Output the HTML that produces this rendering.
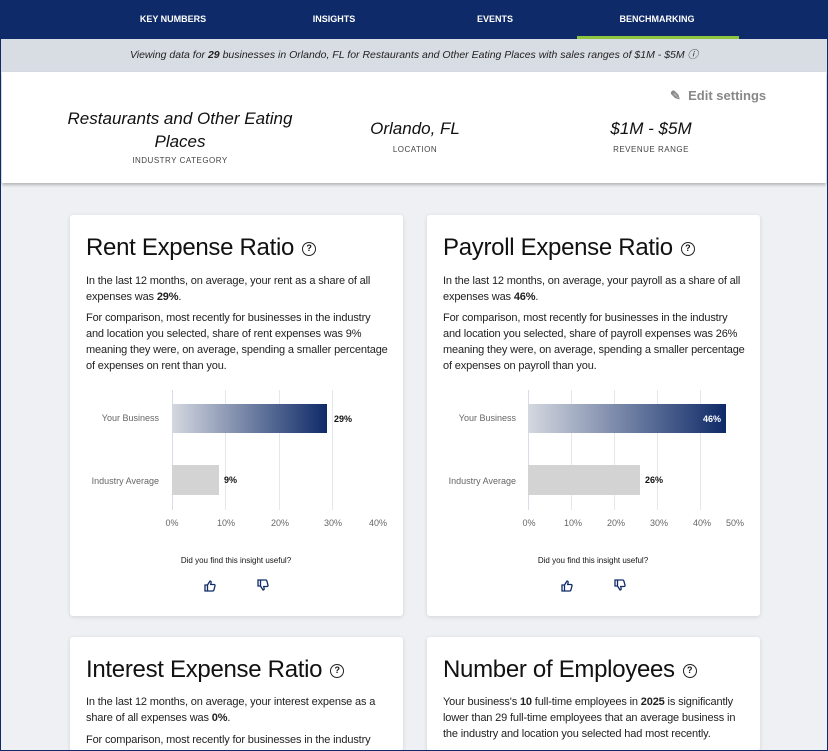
<!DOCTYPE html>
<html><head><meta charset="utf-8"><style>
*{margin:0;padding:0;box-sizing:border-box}
html,body{width:828px;height:751px;overflow:hidden}
body{background:#eef0f3;font-family:"Liberation Sans",sans-serif;position:relative;color:#111}
.a{position:absolute}
.nav{left:0;top:0;width:828px;height:39px;background:#0e2a68}
.nav span{position:absolute;top:14px;color:#fff;font-size:9px;font-weight:bold;transform:translateX(-50%)}
.ban{left:0;top:39px;width:828px;height:33px;background:#d8dde4;font-size:10.5px;font-style:italic;text-align:center;line-height:33px;color:#222}
.hdr{left:2px;top:72px;width:824px;height:111px;background:#fff;box-shadow:0 2px 3px rgba(0,0,0,.25)}
.c{text-align:center;transform:translateX(-50%)}
.big{font-size:17px;font-style:italic;color:#111}
.lab{font-size:8px;letter-spacing:.5px;color:#444}
.card{background:#fff;border-radius:3px;box-shadow:0 1px 4px rgba(0,0,0,.12)}
.t{font-size:24px;color:#111;letter-spacing:-.3px}
.p{font-size:11px;line-height:16px;color:#222;letter-spacing:-.15px;white-space:nowrap}
.q{display:inline-block;width:14px;height:14px;border:1.5px solid #222;border-radius:50%;font-size:9px;text-align:center;line-height:11px;vertical-align:middle;margin-left:8px;font-weight:bold;letter-spacing:0}
.g{background:#e4e7ec;width:1px}
.tk{font-size:9px;color:#666;transform:translateX(-50%)}
.bl{font-size:9px;color:#666;text-align:right;width:90px}
.v{font-size:9px;font-weight:bold}
</style></head><body>
<div class="a" style="left:0;top:0;width:828px;height:751px;border:1px solid #0e2a68;z-index:9;pointer-events:none"></div>
<div class="a nav"><span style="left:173px">KEY NUMBERS</span><span style="left:334px">INSIGHTS</span><span style="left:495px">EVENTS</span><span style="left:657px">BENCHMARKING</span></div>
<div class="a" style="left:577px;top:36px;width:162px;height:3px;background:#8cc63f"></div>
<div class="a ban">Viewing data for <b>29</b> businesses in Orlando, FL for Restaurants and Other Eating Places with sales ranges of $1M - $5M &#9432;</div>
<div class="a hdr"></div>
<div class="a" style="left:670px;top:88px;font-size:13px;font-weight:bold;color:#888">&#9998;&nbsp; Edit settings</div>
<div class="a c big" style="left:180px;top:107px;width:230px;line-height:23px">Restaurants and Other Eating Places</div>
<div class="a c lab" style="left:180px;top:156px">INDUSTRY CATEGORY</div>
<div class="a c big" style="left:415px;top:119px">Orlando,&nbsp;FL</div>
<div class="a c lab" style="left:415px;top:145px">LOCATION</div>
<div class="a c big" style="left:651px;top:119px">$1M&nbsp;-&nbsp;$5M</div>
<div class="a c lab" style="left:651px;top:145px">REVENUE RANGE</div>

<svg width="0" height="0" style="position:absolute"><defs>
<g id="up"><path d="M1 5h2.5v6H1z M3.5 5l2.5-4c1 0 1.3.7 1.1 1.6L6.7 4.5H10c.8 0 1.2.6 1 1.3l-1.2 4.5c-.2.5-.6.7-1.1.7H3.5" fill="none" stroke="#0e2a68" stroke-width="1.3"/></g>
</defs></svg>

<!-- card 1 -->
<div class="a card" style="left:70px;top:215px;width:333px;height:401px"></div>
<div class="a t" style="left:86px;top:234px">Rent Expense Ratio<span class="q">?</span></div>
<div class="a p" style="left:86px;top:273px">In the last 12 months, on average, your rent as a share of all<br>expenses was <b>29%</b>.</div>
<div class="a p" style="left:86px;top:310px">For comparison, most recently for businesses in the industry<br>and location you selected, share of rent expenses was 9%<br>meaning they were, on average, spending a smaller percentage<br>of expenses on rent than you.</div>
<div class="a g" style="left:172px;top:390px;height:120px;background:#d6dce8"></div>
<div class="a g" style="left:225px;top:390px;height:120px"></div>
<div class="a g" style="left:279px;top:390px;height:120px"></div>
<div class="a g" style="left:332px;top:390px;height:120px"></div>
<div class="a" style="left:172px;top:404px;width:155px;height:29px;background:linear-gradient(90deg,#d4d8e0,#0e2a68)"></div>
<div class="a" style="left:172px;top:465px;width:47px;height:30px;background:#d3d3d3"></div>
<div class="a v" style="left:334px;top:414px">29%</div>
<div class="a v" style="left:224px;top:475px">9%</div>
<div class="a bl" style="left:69px;top:413px">Your Business</div>
<div class="a bl" style="left:69px;top:476px">Industry Average</div>
<div class="a tk" style="left:172px;top:518px">0%</div><div class="a tk" style="left:226px;top:518px">10%</div><div class="a tk" style="left:280px;top:518px">20%</div><div class="a tk" style="left:333px;top:518px">30%</div><div class="a tk" style="left:378px;top:518px">40%</div>
<div class="a c" style="left:236px;top:556px;font-size:8px">Did you find this insight useful?</div>
<svg class="a" style="left:204px;top:580px" width="12" height="12"><use href="#up"/></svg>
<svg class="a" style="left:257px;top:579px;transform:scaleY(-1)" width="12" height="12"><use href="#up"/></svg>

<!-- card 2 -->
<div class="a card" style="left:427px;top:215px;width:333px;height:401px"></div>
<div class="a t" style="left:443px;top:234px">Payroll Expense Ratio<span class="q">?</span></div>
<div class="a p" style="left:443px;top:273px">In the last 12 months, on average, your payroll as a share of all<br>expenses was <b>46%</b>.</div>
<div class="a p" style="left:443px;top:310px">For comparison, most recently for businesses in the industry<br>and location you selected, share of payroll expenses was 26%<br>meaning they were, on average, spending a smaller percentage<br>of expenses on payroll than you.</div>
<div class="a g" style="left:528px;top:390px;height:120px;background:#d6dce8"></div>
<div class="a g" style="left:571px;top:390px;height:120px"></div>
<div class="a g" style="left:614px;top:390px;height:120px"></div>
<div class="a g" style="left:657px;top:390px;height:120px"></div>
<div class="a g" style="left:700px;top:390px;height:120px"></div>
<div class="a" style="left:528px;top:404px;width:198px;height:29px;background:linear-gradient(90deg,#d4d8e0,#0e2a68)"></div>
<div class="a" style="left:528px;top:465px;width:112px;height:30px;background:#d3d3d3"></div>
<div class="a v" style="left:703px;top:414px;color:#fff">46%</div>
<div class="a v" style="left:645px;top:475px">26%</div>
<div class="a bl" style="left:426px;top:413px">Your Business</div>
<div class="a bl" style="left:426px;top:476px">Industry Average</div>
<div class="a tk" style="left:529px;top:518px">0%</div><div class="a tk" style="left:573px;top:518px">10%</div><div class="a tk" style="left:616px;top:518px">20%</div><div class="a tk" style="left:659px;top:518px">30%</div><div class="a tk" style="left:702px;top:518px">40%</div><div class="a tk" style="left:735px;top:518px">50%</div>
<div class="a c" style="left:593px;top:556px;font-size:8px">Did you find this insight useful?</div>
<svg class="a" style="left:561px;top:580px" width="12" height="12"><use href="#up"/></svg>
<svg class="a" style="left:614px;top:579px;transform:scaleY(-1)" width="12" height="12"><use href="#up"/></svg>

<!-- row 2 -->
<div class="a card" style="left:70px;top:637px;width:333px;height:114px"></div>
<div class="a t" style="left:86px;top:656px">Interest Expense Ratio<span class="q">?</span></div>
<div class="a p" style="left:86px;top:694px">In the last 12 months, on average, your interest expense as a<br>share of all expenses was <b>0%</b>.</div>
<div class="a p" style="left:86px;top:732px">For comparison, most recently for businesses in the industry</div>
<div class="a card" style="left:427px;top:637px;width:333px;height:114px"></div>
<div class="a t" style="left:443px;top:656px">Number of Employees<span class="q">?</span></div>
<div class="a p" style="left:443px;top:694px">Your business's <b>10</b> full-time employees in <b>2025</b> is significantly<br>lower than 29 full-time employees that an average business in<br>the industry and location you selected had most recently.</div>
</body></html>
